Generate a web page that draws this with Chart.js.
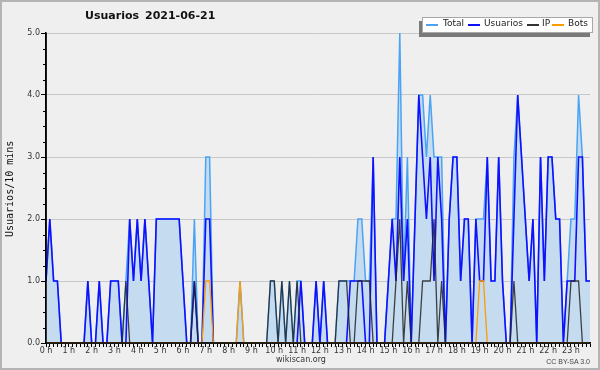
<!DOCTYPE html>
<html>
<head>
<meta charset="utf-8">
<script src="https://cdn.jsdelivr.net/npm/chart.js@4.4.1/dist/chart.umd.min.js"></script>
<style>
  html, body { margin: 0; padding: 0; background: #efefef; }
  #wrap { position: relative; width: 600px; height: 370px; background: #efefef; overflow: hidden; font-family: "DejaVu Sans", sans-serif; color: #222; }
  #chart { position: absolute; left: 0; top: 0; }
  #frame { position: absolute; left: 0; top: 0; width: 600px; height: 370px; box-sizing: border-box; border: 2px solid #b4b4b4; pointer-events: none; }
  .title { position: absolute; top: 9px; font: bold 11px "DejaVu Sans", sans-serif; color: #111; white-space: nowrap; }
  #legendShadow { position: absolute; left: 419px; top: 21px; width: 171px; height: 16px; background: #7a7a7a; }
  #legend { position: absolute; left: 422px; top: 17px; width: 171px; height: 16px; box-sizing: border-box; background: #fff; border: 1px solid #a8a8a8; }
  .lg-line { position: absolute; top: 24px; height: 1.5px; width: 12px; }
  .lg-text { position: absolute; top: 18px; font: 9px "DejaVu Sans", sans-serif; color: #222; white-space: nowrap; }
  #ytitle { position: absolute; left: 4px; top: 141px; height: 96px; line-height: 12px; text-align: center; font: 400 10px "DejaVu Sans Mono", monospace; color: #111; writing-mode: vertical-rl; transform: rotate(180deg); white-space: nowrap; }
  #site { position: absolute; left: 251px; top: 355px; width: 100px; text-align: center; font: 8px "DejaVu Sans", sans-serif; color: #333; }
  #lic { position: absolute; right: 10px; top: 358px; font: 7px "Liberation Sans", sans-serif; color: #444; white-space: nowrap; }
</style>
</head>
<body>
<div id="wrap">
  <canvas id="chart" width="600" height="370"></canvas>
  <div class="title" style="left:85px">Usuarios</div>
  <div class="title" style="left:145px">2021-06-21</div>
  <div id="legendShadow"></div>
  <div id="legend"></div>
  <div class="lg-line" style="left:426px;background:#4aa3f5"></div>
  <div class="lg-text" style="left:443px">Total</div>
  <div class="lg-line" style="left:468px;background:#1010ff"></div>
  <div class="lg-text" style="left:484px">Usuarios</div>
  <div class="lg-line" style="left:527px;background:#333"></div>
  <div class="lg-text" style="left:542px">IP</div>
  <div class="lg-line" style="left:552px;background:#ff9a00"></div>
  <div class="lg-text" style="left:568px">Bots</div>
  <div id="ytitle">Usuarios/10 mins</div>
  <div id="site">wikiscan.org</div>
  <div id="lic">CC BY-SA 3.0</div>
  <div id="frame"></div>
</div>
<script>
// hour labels shown on the x axis, one every 6 slots (10 min each)
const hourLabels = ['0 h', '1 h', '2 h', '3 h', '4 h', '5 h', '6 h', '7 h', '8 h', '9 h', '10 h', '11 h',
    '12 h', '13 h', '14 h', '15 h', '16 h', '17 h', '18 h', '19 h', '20 h', '21 h', '22 h', '23 h'];

// 10-minute slots of the day
const slots = [];
for (let h = 0; h < 24; h++) {
    for (let m = 0; m < 60; m += 10) slots.push(h + ':' + String(m).padStart(2, '0'));
}

// values per 10 min, one row per hour
const total = [
    1,2,1,1,0,0,  0,0,0,0,0,1,  0,0,1,0,0,1,  1,1,0,1,2,1,  2,1,2,1,0,2,  2,2,2,2,2,2,
    1,0,0,2,0,0,  3,3,0,0,0,0,  0,0,0,1,0,0,  0,0,0,0,0,1,  1,0,1,0,1,0,  1,1,0,0,0,1,
    0,1,0,0,0,1,  1,1,1,1,2,2,  1,1,3,0,0,0,  1,2,2,5,1,3,  0,2,4,4,3,4,  3,3,3,0,2,3,
    3,1,2,2,0,2,  2,2,3,1,1,3,  1,0,0,3,4,3,  2,1,2,0,3,1,  3,3,2,2,0,1,  2,2,4,3,1,1
];
const usuarios = [
    1,2,1,1,0,0,  0,0,0,0,0,1,  0,0,1,0,0,1,  1,1,0,0,2,1,  2,1,2,1,0,2,  2,2,2,2,2,2,
    1,0,0,1,0,0,  2,2,0,0,0,0,  0,0,0,0,0,0,  0,0,0,0,0,0,  0,0,0,0,0,0,  0,1,0,0,0,1,
    0,1,0,0,0,0,  0,0,1,1,1,1,  0,0,3,0,0,0,  1,2,1,3,1,2,  0,2,4,3,2,3,  1,3,2,0,2,3,
    3,1,2,2,0,2,  1,1,3,1,1,3,  1,0,0,2,4,3,  2,1,2,0,3,1,  3,3,2,2,0,1,  1,1,3,3,1,1
];
const ip = [
    0,0,0,0,0,0,  0,0,0,0,0,0,  0,0,0,0,0,0,  0,0,0,1,0,0,  0,0,0,0,0,0,  0,0,0,0,0,0,
    0,0,0,1,0,0,  0,0,0,0,0,0,  0,0,0,0,0,0,  0,0,0,0,0,1,  1,0,1,0,1,0,  1,0,0,0,0,0,
    0,0,0,0,0,1,  1,1,0,0,1,1,  1,1,0,0,0,0,  0,0,1,2,0,1,  0,0,0,1,1,1,  2,0,1,0,0,0,
    0,0,0,0,0,0,  0,0,0,0,0,0,  0,0,0,1,0,0,  0,0,0,0,0,0,  0,0,0,0,0,0,  1,1,1,0,0,0
];
const bots = [
    0,0,0,0,0,0,  0,0,0,0,0,0,  0,0,0,0,0,0,  0,0,0,0,0,0,  0,0,0,0,0,0,  0,0,0,0,0,0,
    0,0,0,0,0,0,  1,1,0,0,0,0,  0,0,0,1,0,0,  0,0,0,0,0,0,  0,0,0,0,0,0,  0,0,0,0,0,0,
    0,0,0,0,0,0,  0,0,0,0,0,0,  0,0,0,0,0,0,  0,0,0,0,0,0,  0,0,0,0,0,0,  0,0,0,0,0,0,
    0,0,0,0,0,0,  1,1,0,0,0,0,  0,0,0,0,0,0,  0,0,0,0,0,0,  0,0,0,0,0,0,  0,0,0,0,0,0
];

// short minor ticks on the y axis, and the axis lines drawn again over the series
const axisExtras = {
    id: 'axisExtras',
    afterDatasetsDraw(chart) {
        const ctx = chart.ctx;
        const y = chart.scales.y;
        const a = chart.chartArea;
        ctx.save();
        ctx.strokeStyle = '#000';
        ctx.lineWidth = 1;
        y.ticks.forEach(t => {
            if (t.value % 1 === 0) return;
            const py = Math.round(y.getPixelForValue(t.value)) + 0.5;
            ctx.beginPath();
            ctx.moveTo(a.left - 3, py);
            ctx.lineTo(a.left, py);
            ctx.stroke();
        });
        ctx.lineWidth = 1.5;
        ctx.beginPath();
        ctx.moveTo(a.left, a.top);
        ctx.lineTo(a.left, a.bottom);
        ctx.lineTo(a.right, a.bottom);
        ctx.stroke();
        ctx.restore();
    }
};

const lineBase = { pointRadius: 0, tension: 0, fill: false };

new Chart(document.getElementById('chart'), {
    type: 'line',
    data: {
        labels: slots,
        datasets: [
            { ...lineBase, label: 'Total', data: total, borderColor: '#4aa3f5', borderWidth: 1.5,
              fill: 'origin', backgroundColor: '#c5dcf0', order: 4 },
            { ...lineBase, label: 'Usuarios', data: usuarios, borderColor: '#1010ff', borderWidth: 1.6, order: 3 },
            { ...lineBase, label: 'IP', data: ip, borderColor: 'rgba(35,35,35,0.85)', borderWidth: 1.3, order: 2 },
            { ...lineBase, label: 'Bots', data: bots, borderColor: '#ff9a00', borderWidth: 1.3, order: 1 }
        ]
    },
    options: {
        responsive: false,
        animation: false,
        layout: { padding: { top: 33, right: 10, left: 0, bottom: 0 } },
        plugins: {
            legend: { display: false },
            tooltip: { enabled: false }
        },
        scales: {
            x: {
                type: 'category',
                offset: false,
                afterFit: s => { s.height = 27; },
                border: { color: '#000', width: 1.5 },
                grid: { drawOnChartArea: false, drawTicks: true, tickLength: 4, color: '#000' },
                ticks: {
                    autoSkip: false,
                    maxRotation: 0,
                    padding: -1,
                    color: '#333',
                    font: { family: "'DejaVu Sans', sans-serif", size: 8 },
                    callback: (val, idx) => idx % 6 === 0 ? hourLabels[idx / 6] : ''
                }
            },
            y: {
                min: 0,
                max: 5,
                afterFit: s => { s.width = 46; },
                border: { color: '#000', width: 1.5 },
                grid: {
                    tickLength: 5,
                    color: c => (c.tick && c.tick.value % 1 === 0) ? '#c8c8c8' : 'rgba(0,0,0,0)',
                    tickColor: c => (c.tick && c.tick.value % 1 === 0) ? '#000' : 'rgba(0,0,0,0)'
                },
                ticks: {
                    stepSize: 0.25,
                    padding: 1,
                    color: '#333',
                    font: { family: "'DejaVu Sans', sans-serif", size: 8 },
                    callback: v => v % 1 === 0 ? v.toFixed(1) : ''
                }
            }
        }
    },
    plugins: [axisExtras]
});
</script>
</body>
</html>
